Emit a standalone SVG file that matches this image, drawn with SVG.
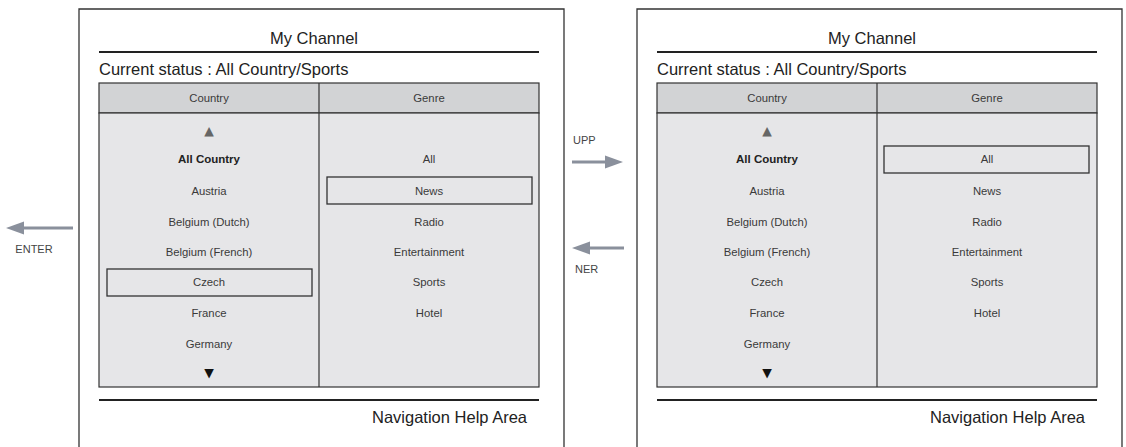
<svg xmlns="http://www.w3.org/2000/svg" width="1126" height="447" viewBox="0 0 1126 447">
<style>
.frame{fill:none;stroke:#333;stroke-width:1.3}
.thick{stroke:#222;stroke-width:2.2}
.hdr{fill:#d2d3d5;stroke:#333;stroke-width:1.2}
.body{fill:#e6e6e8;stroke:#333;stroke-width:1.2}
.t16{font-family:"Liberation Sans",Arial,sans-serif;font-size:16.5px;fill:#222}
.t11{font-family:"Liberation Sans",Arial,sans-serif;font-size:11.3px;fill:#3a3a3a;text-anchor:middle}
.b11{font-family:"Liberation Sans",Arial,sans-serif;font-size:11.5px;font-weight:bold;fill:#222;text-anchor:middle}
.sel{fill:none;stroke:#333;stroke-width:1.3}
.lbl{font-family:"Liberation Sans",Arial,sans-serif;font-size:11px;fill:#444}
.arr{stroke:#8a909c;stroke-width:3}
.ah{fill:#8a909c}
.tri{font-family:"DejaVu Sans",sans-serif;font-size:12.5px;text-anchor:middle}
</style>
<defs>
<g id="panel">
<path class="frame" d="M79,447 V9 H564 V447"/>
<text class="t16" x="314" y="44" text-anchor="middle">My Channel</text>
<line class="thick" x1="99" y1="52" x2="539" y2="52"/>
<text class="t16" x="99" y="75">Current status : All Country/Sports</text>
<rect class="hdr" x="99" y="83" width="440" height="30"/>
<rect class="body" x="99" y="113" width="440" height="274"/>
<line x1="319" y1="83" x2="319" y2="387" stroke="#333" stroke-width="1.2"/>
<text class="t11" x="209" y="102">Country</text>
<text class="t11" x="429" y="102">Genre</text>
<text class="tri" x="209" y="135" fill="#666">▲</text>
<text class="b11" x="209" y="163">All Country</text>
<text class="t11" x="209" y="195">Austria</text>
<text class="t11" x="209" y="226">Belgium (Dutch)</text>
<text class="t11" x="209" y="256">Belgium (French)</text>
<text class="t11" x="209" y="286">Czech</text>
<text class="t11" x="209" y="317">France</text>
<text class="t11" x="209" y="348">Germany</text>
<text class="tri" x="209" y="377" fill="#111">▼</text>
<text class="t11" x="429" y="163">All</text>
<text class="t11" x="429" y="195">News</text>
<text class="t11" x="429" y="226">Radio</text>
<text class="t11" x="429" y="256">Entertainment</text>
<text class="t11" x="429" y="286">Sports</text>
<text class="t11" x="429" y="317">Hotel</text>
<line class="thick" x1="99" y1="400" x2="539" y2="400"/>
<text class="t16" x="527" y="423" text-anchor="end">Navigation Help Area</text>
</g>
</defs>
<g id="screen-left">
<use href="#panel"/>
<rect class="sel" x="107" y="269" width="205" height="27"/>
<rect class="sel" x="327" y="177" width="205" height="27"/>
</g>
<g id="screen-right">
<use href="#panel" transform="translate(558,0)"/>
<rect class="sel" x="884" y="146" width="205" height="27"/>
</g>
<g id="connectors">
<line class="arr" x1="572" y1="162" x2="608" y2="162"/>
<polygon class="ah" points="623,162 605,155.5 605,168.5"/>
<line class="arr" x1="588" y1="248" x2="624" y2="248"/>
<polygon class="ah" points="572,248 590,241.5 590,254.5"/>
<line class="arr" x1="22" y1="228" x2="73" y2="228"/>
<polygon class="ah" points="6,228 24,221.5 24,234.5"/>
</g>
<g id="labels">
<text class="lbl" x="573" y="144">UPP</text>
<text class="lbl" x="575" y="273">NER</text>
<text class="lbl" x="34" y="253" text-anchor="middle">ENTER</text>
</g>
</svg>
